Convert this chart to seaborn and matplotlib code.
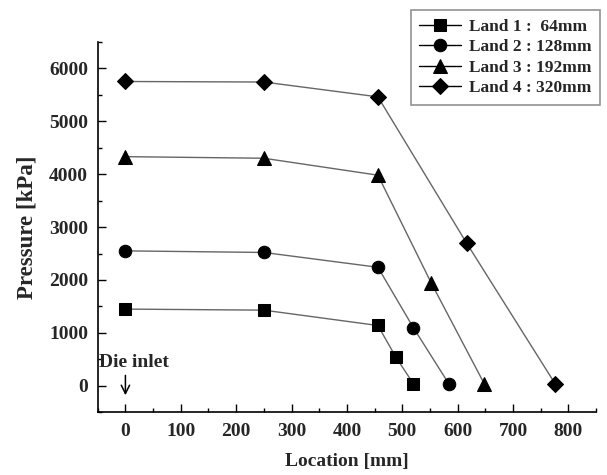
import matplotlib
matplotlib.use("Agg")
import matplotlib.pyplot as plt
import seaborn as sns
import pandas as pd
from matplotlib.ticker import MultipleLocator

sns.set_theme(style="white")
plt.rcParams["font.family"] = ["Liberation Serif", "DejaVu Serif"]
plt.rcParams["font.weight"] = "bold"

# Pressure along the die for four land lengths
land_labels = ["Land 1 :  64mm", "Land 2 : 128mm", "Land 3 : 192mm", "Land 4 : 320mm"]
land1_x = [0, 250, 456, 488, 520]
land1_p = [1450, 1430, 1140, 550, 40]
land2_x = [0, 250, 456, 520, 584]
land2_p = [2550, 2520, 2240, 1100, 40]
land3_x = [0, 250, 456, 552, 648]
land3_p = [4330, 4300, 3980, 1950, 40]
land4_x = [0, 250, 456, 616, 776]
land4_p = [5750, 5740, 5460, 2700, 40]

series = [(land1_x, land1_p), (land2_x, land2_p), (land3_x, land3_p), (land4_x, land4_p)]
markers = ["s", "o", "^", "D"]
msizes = [8, 9, 9.5, 8.5]

fig = plt.figure(figsize=(6.07, 4.75), dpi=100)
ax = fig.add_axes([0.161, 0.132, 0.821, 0.780])

for (xs, ps), lab, m, ms in zip(series, land_labels, markers, msizes):
    df = pd.DataFrame({"Location": xs, "Pressure": ps})
    sns.lineplot(data=df, x="Location", y="Pressure", ax=ax, color="#666666",
                 linewidth=1.0, marker=m, markersize=ms, markerfacecolor="black",
                 markeredgecolor="black", label=lab, sort=False)

ax.set_xlim(-50, 850)
ax.set_ylim(-500, 6500)
ax.xaxis.set_major_locator(MultipleLocator(100))
ax.xaxis.set_minor_locator(MultipleLocator(50))
ax.yaxis.set_major_locator(MultipleLocator(1000))
ax.yaxis.set_minor_locator(MultipleLocator(500))

for side in ["top", "right"]:
    ax.spines[side].set_visible(False)
for side in ["left", "bottom"]:
    ax.spines[side].set_color("black")
    ax.spines[side].set_linewidth(1.2)

ax.tick_params(axis="both", which="major", direction="in", length=6, width=1,
               color="black", labelsize=14, left=True, bottom=True)
ax.tick_params(axis="y", which="major", pad=7)
ax.tick_params(axis="x", which="major", pad=8)
ax.tick_params(axis="both", which="minor", direction="in", length=3, width=1,
               color="black", left=True, bottom=True)
for t in ax.get_xticklabels() + ax.get_yticklabels():
    t.set_fontweight("bold")

ax.set_xlabel("Location [mm]", fontsize=14, fontweight="bold", labelpad=9)
ax.set_ylabel("Pressure [kPa]", fontsize=16.5, fontweight="bold", labelpad=8)

# die inlet marker
ax.text(-47, 440, "Die inlet", fontsize=14, fontweight="bold", va="center", ha="left")
ax.annotate("", xy=(0, -230), xytext=(0, 250),
            arrowprops=dict(arrowstyle="->,head_length=0.5,head_width=0.25",
                            color="black", lw=1.1))

leg = ax.legend(loc="upper right", bbox_to_anchor=(1.008, 1.0855), frameon=True,
                fancybox=False, edgecolor="#777777", fontsize=12.5,
                handlelength=2.4, handletextpad=0.45, borderpad=0.5,
                labelspacing=0.25, borderaxespad=0)
leg.get_frame().set_linewidth(1.2)
for t in leg.get_texts():
    t.set_fontweight("bold")
for h in leg.legend_handles:
    h.set_color("black")
    h.set_markerfacecolor("black")

fig.savefig("out.png", dpi=100)
